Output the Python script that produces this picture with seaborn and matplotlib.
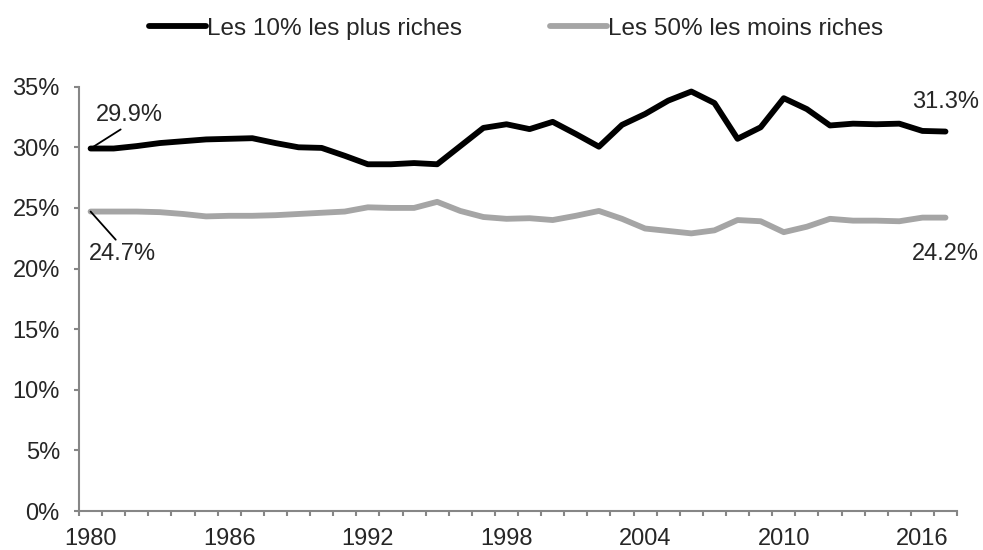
import matplotlib
matplotlib.use("Agg")
import matplotlib.pyplot as plt
import matplotlib.ticker as mticker
import seaborn as sns
import pandas as pd
import numpy as np

years = list(range(1980, 2018))
top10 = [29.9, 29.9, 30.1, 30.35, 30.5, 30.65, 30.7, 30.75, 30.35, 30.0,
         29.95, 29.3, 28.6, 28.6, 28.7, 28.6, 30.1, 31.6, 31.9, 31.5,
         32.1, 31.1, 30.05, 31.85, 32.75, 33.85, 34.6, 33.65, 30.7, 31.65,
         34.05, 33.15, 31.8, 31.95, 31.9, 31.95, 31.35, 31.3]
bottom50 = [24.7, 24.7, 24.7, 24.65, 24.5, 24.3, 24.35, 24.35, 24.4, 24.5,
            24.6, 24.7, 25.05, 25.0, 25.0, 25.5, 24.75, 24.25, 24.1, 24.15,
            24.0, 24.35, 24.75, 24.1, 23.3, 23.1, 22.9, 23.15, 24.0, 23.9,
            23.0, 23.45, 24.1, 23.95, 23.95, 23.9, 24.2, 24.2]
series_names = ["Les 10% les plus riches", "Les 50% les moins riches"]
series_colors = ["#000000", "#A5A5A5"]
y_ticks = [0, 5, 10, 15, 20, 25, 30, 35]
x_labels = [1980, 1986, 1992, 1998, 2004, 2010, 2016]

sns.set_style("white")
plt.rcParams["font.family"] = ["Liberation Sans", "DejaVu Sans"]

FS = 17

df = pd.DataFrame({
    "year": years * 2,
    "value": top10 + bottom50,
    "series": [series_names[0]] * len(years) + [series_names[1]] * len(years),
})

fig = plt.figure(figsize=(9.83, 5.5), dpi=100)
ax = fig.add_axes([0.0804, 0.0709, 0.8932, 0.7715])

sns.lineplot(data=df, x="year", y="value", hue="series",
             palette=dict(zip(series_names, series_colors)),
             linewidth=4.2, ax=ax, legend=True)
for ln in ax.get_lines():
    ln.set_solid_capstyle("round")
    ln.set_solid_joinstyle("round")

ax.set_xlim(years[0] - 0.5, years[-1] + 0.5)
ax.set_ylim(0, 35)
ax.set_yticks(y_ticks)
ax.yaxis.set_major_formatter(mticker.FuncFormatter(lambda v, p: f"{v:.0f}%"))
ax.set_xticks(x_labels)
ax.set_xticklabels([str(x) for x in x_labels])
ax.set_xticks(np.arange(years[0] - 0.5, years[-1] + 1.0, 1.0), minor=True)
ax.set_xlabel("")
ax.set_ylabel("")

spine_col = "#868686"
for s in ["top", "right"]:
    ax.spines[s].set_visible(False)
for s in ["left", "bottom"]:
    ax.spines[s].set_color(spine_col)
    ax.spines[s].set_linewidth(1.5)
ax.tick_params(axis="y", which="major", direction="out", length=3.8, width=1.5,
               color=spine_col, labelsize=FS, pad=10, left=True)
ax.tick_params(axis="x", which="major", length=0, labelsize=FS, pad=12, bottom=True)
ax.tick_params(axis="x", which="minor", direction="out", length=3.8, width=1.5,
               color=spine_col, bottom=True)

handles, labels = ax.get_legend_handles_labels()
ax.get_legend().remove()
leg = fig.legend(handles, labels, loc="center", bbox_to_anchor=(0.525, 0.948),
                 ncol=2, frameon=False, fontsize=17.5, handlelength=2.35,
                 handletextpad=0.05, columnspacing=3.6)
for h in leg.get_lines():
    h.set_linewidth(4.2)

# annotations
ax.annotate(f"{top10[0]:.1f}%", xy=(years[0], top10[0]), xytext=(years[0] + 1.67, 32.65),
            fontsize=FS, ha="center", va="center",
            arrowprops=dict(arrowstyle="-", color="black", lw=1.3, shrinkA=0, shrinkB=0,
                            relpos=(0.45, 0.0)))
ax.annotate(f"{bottom50[0]:.1f}%", xy=(years[0], bottom50[0]), xytext=(years[0] + 1.36, 21.2),
            fontsize=FS, ha="center", va="center",
            arrowprops=dict(arrowstyle="-", color="black", lw=1.3, shrinkA=0, shrinkB=0,
                            relpos=(0.45, 1.0)))
ax.annotate(f"{top10[-1]:.1f}%", xy=(years[-1], top10[-1]), xytext=(years[-1], 33.75),
            fontsize=FS, ha="center", va="center")
ax.annotate(f"{bottom50[-1]:.1f}%", xy=(years[-1], bottom50[-1]), xytext=(years[-1], 21.2),
            fontsize=FS, ha="center", va="center")

fig.savefig("out.png", dpi=100)
